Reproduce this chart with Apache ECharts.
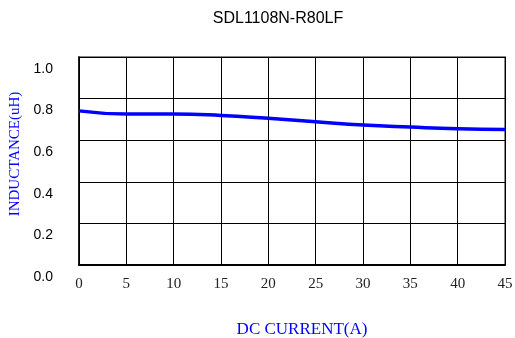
<!DOCTYPE html>
<html>
<head>
<meta charset="utf-8">
<script src="https://cdn.jsdelivr.net/npm/echarts@6/dist/echarts.min.js"></script>
<style>html,body{margin:0;padding:0;background:#fff}#c{width:515px;height:338px}</style>
</head>
<body>
<div id="c"></div>
<script>
const titleText = 'SDL1108N-R80LF';
const xTitle = 'DC CURRENT(A)';
const yTitle = 'INDUCTANCE(uH)';
const current = [0, 5, 10, 15, 20, 25, 30, 35, 40, 45];
const inductance = [0.741, 0.726, 0.726, 0.719, 0.705, 0.689, 0.673, 0.663, 0.655, 0.652];

const chart = echarts.init(document.getElementById('c'), null, {renderer: 'canvas'});
chart.setOption({
  animation: false,
  backgroundColor: '#fff',
  title: {
    text: titleText, left: 273, top: 6, textAlign: 'center',
    textStyle: {fontFamily: 'Liberation Sans', fontSize: 16, fontWeight: 'normal', color: '#000'}
  },
  grid: {left: 79, right: 10, top: 57, bottom: 73, show: true, borderColor: '#888', borderWidth: 2,
         containLabel: false, outerBoundsMode: 'none'},
  xAxis: {
    type: 'value', min: 0, max: 45, interval: 5,
    name: xTitle, nameLocation: 'middle', nameGap: 56,
    nameTextStyle: {fontFamily: 'Liberation Serif', fontSize: 17, color: '#0000ff', padding: [0, 0, 0, 20]},
    axisLine: {show: true, lineStyle: {color: '#000', width: 2}},
    axisTick: {show: false},
    axisLabel: {fontFamily: 'Liberation Serif', fontSize: 15, color: '#222', margin: 12,
                showMinLabel: true, showMaxLabel: true, hideOverlap: false},
    splitLine: {show: true, lineStyle: {color: '#000', width: 1}}
  },
  yAxis: {
    type: 'value', min: 0, max: 1, interval: 0.2,
    name: yTitle, nameLocation: 'middle', nameGap: 48,
    nameTextStyle: {fontFamily: 'Liberation Serif', fontSize: 15, color: '#0000ff', padding: [0, 0, 0, 14]},
    axisLine: {show: true, lineStyle: {color: '#000', width: 1.5}},
    axisTick: {show: false},
    axisLabel: {
      fontFamily: 'Liberation Sans', fontSize: 14, color: '#000', margin: 26,
      showMinLabel: true, showMaxLabel: true, hideOverlap: false,
      formatter: v => '{a|' + v.toFixed(1) + '}',
      rich: {a: {fontFamily: 'Liberation Sans', fontSize: 14, color: '#000', padding: [24, 0, 0, 0]}}
    },
    splitLine: {show: true, lineStyle: {color: '#000', width: 1}}
  },
  series: [{
    type: 'line', smooth: true, symbol: 'none',
    data: current.map((c, i) => [c, inductance[i]]),
    lineStyle: {color: '#0000ff', width: 3.5}
  }]
});
</script>
</body>
</html>
